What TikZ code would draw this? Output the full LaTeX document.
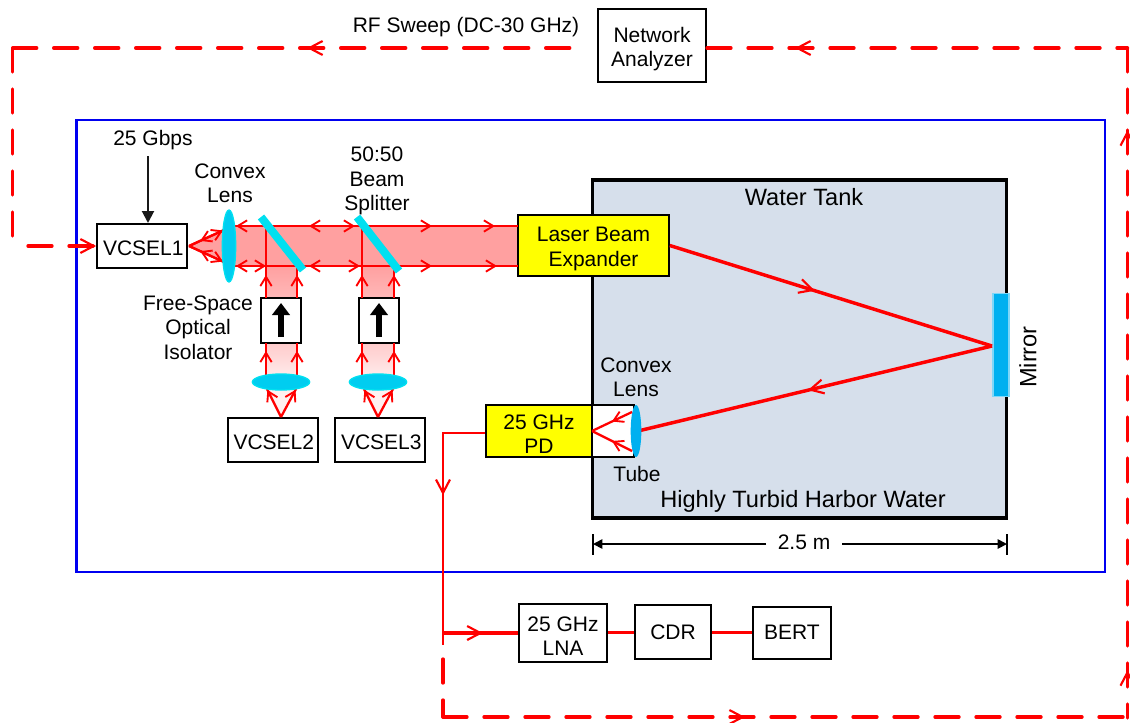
\documentclass[tikz,border=0pt]{standalone}
\usepackage{fontspec}
\setmainfont{Liberation Sans}
\usetikzlibrary{arrows.meta,decorations.markings,shapes.geometric,calc}
\definecolor{rd}{HTML}{FF0000}
\definecolor{beam}{HTML}{FFA0A0}
\definecolor{cy}{HTML}{00B0F0}
\definecolor{cyl}{HTML}{00E0F0}
\definecolor{tank}{HTML}{D6DFEB}
\definecolor{frame}{HTML}{0000F0}
\definecolor{yel}{HTML}{FFFF00}
\tikzset{
 lab/.style={inner sep=0pt,align=center,font=\fontsize{15.75}{18.2}\selectfont},
 bigl/.style={lab,font=\fontsize{17.7}{20}\selectfont},
 box/.style={draw=black,line width=1.5pt,fill=white,inner sep=0pt},
 ybox/.style={box,fill=yel},
 tx/.style={label={[lab,yshift=-1.5pt,xshift=1pt]center:#1}},
 txtwo/.style={label={[lab,yshift=-2.6pt]center:#1}},
 txflat/.style={label={[lab]center:#1}},
 barb/.style={-{Straight Barb[length=7pt,width=8.5pt,line width=1.4pt]}},
 bigbarb/.style={-{Straight Barb[length=10pt,width=10.5pt,line width=1.6pt]}},
 ray/.style={draw=rd,line width=1.7pt},
 fat/.style={draw=rd,line width=2.6pt},
 rdash/.style={draw=rd,line width=2.5pt,line cap=round,dash pattern=on 18pt off 12.75pt},
 mk/.style={postaction={decorate,decoration={markings,mark=at position #1 with {\arrow{Straight Barb[length=7pt,width=8.5pt,line width=1.4pt]}}}}},
 rmk/.style={postaction={decorate,decoration={markings,mark=at position #1 with {\arrowreversed{Straight Barb[length=7pt,width=8.5pt,line width=1.4pt]}}}}},
 mkb/.style={postaction={decorate,decoration={markings,mark=at position #1 with {\arrow{Straight Barb[length=10pt,width=10.5pt,line width=1.6pt]}}}}},
 lensL/.style={ellipse,fill=cyl!60!cy,draw=cyl,line width=1pt,inner sep=0pt},
 split/.style={draw=cyl,line width=6pt},
}
\begin{document}
\begin{tikzpicture}[x=0.75pt,y=-0.75pt]
\useasboundingbox (0,0) rectangle (1130,722);
% frame
\node[draw=frame,line width=2pt,minimum width=771.5pt,minimum height=339pt,inner sep=0pt] (outer) at (590.5,346) {};
% tank
\node[draw=black,fill=tank,line width=2.4pt,minimum width=311pt,minimum height=253.5pt,inner sep=0pt] (tankbox) at (799.5,349) {};
% beams
\fill[beam] (229,226) rectangle (518,266);
\fill[beam] (189,246) -- (229,229) -- (229,262) -- cycle;
\shade[top color=beam,bottom color=beam!75] (266,266) rectangle (297,298);
\shade[top color=beam,bottom color=beam!75] (362,266) rectangle (394,298);
\shade[top color=beam!55,bottom color=beam!15] (266,343) rectangle (297,382);
\shade[top color=beam!55,bottom color=beam!15] (362,343) rectangle (394,382);
\fill[beam!15] (281,417) -- (267,388) -- (296,388) -- cycle;
\fill[beam!15] (378,417) -- (364,388) -- (393,388) -- cycle;
% boxes
\node[box,minimum width=67.5pt,minimum height=33pt,tx={VCSEL1}] (v1) at (142,246) {};
\node[box,minimum width=67.5pt,minimum height=33pt,tx={VCSEL2}] (v2) at (272.5,440) {};
\node[box,minimum width=67.5pt,minimum height=33pt,tx={VCSEL3}] (v3) at (380,440) {};
\node[box,minimum width=30pt,minimum height=33.75pt] (iso1) at (281,320.5) {};
\node[box,minimum width=30pt,minimum height=33.75pt] (iso2) at (379,320.5) {};
\node[box,minimum width=81pt,minimum height=54.75pt,txtwo={Network\\Analyzer}] (na) at (652,45.5) {};
\node[ybox,minimum width=113pt,minimum height=45.75pt,txtwo={Laser Beam\\Expander}] (lbe) at (593.5,245.5) {};
\node[box,minimum width=31.5pt,minimum height=39pt] (tube) at (613,431) {};
\node[ybox,minimum width=79.5pt,minimum height=39pt,txtwo={25 GHz\\PD}] (pd) at (539,431) {};
\node[box,minimum width=66pt,minimum height=43.5pt,txtwo={25 GHz\\LNA}] (lna) at (563,632.5) {};
\node[box,minimum width=57pt,minimum height=40.5pt,txflat={CDR}] (cdr) at (673,632) {};
\node[box,minimum width=58.5pt,minimum height=39pt,txflat={BERT}] (bert) at (792,632.5) {};
% isolator arrows
\coordinate (a1s) at (281,337); \coordinate (a1e) at (281,303);
\coordinate (a2s) at (379,337); \coordinate (a2e) at (379,303);
\draw[line width=4.5pt,-{Triangle[length=9pt,width=13pt]}] (a1s) -- (a1e);
\draw[line width=4.5pt,-{Triangle[length=9pt,width=13pt]}] (a2s) -- (a2e);
% beam rays
\coordinate (t0) at (229,226); \coordinate (t1) at (518,226);
\coordinate (b0) at (229,266); \coordinate (b1) at (518,266);
\draw[ray] (t0) -- (t1);
\draw[ray] (b0) -- (b1);
\foreach \x in {236,309}{\draw[ray,barb] (\x+8,226) -- (\x,226); \draw[ray,barb] (\x+8,266) -- (\x,266);}
\foreach \x in {355,432,495}{\draw[ray,barb] (\x-8,226) -- (\x,226);}
\foreach \x in {266,360,432,497}{\draw[ray,barb] (\x-8,266) -- (\x,266);}
% vertical rays
\foreach \x/\ybot in {266/298,297/298,362/298,394/298}{\draw[ray,mk=0.72] (\x,\ybot) -- (\x,266);}
\draw[ray] (266,266) -- (266,226);
\draw[ray] (362,266) -- (362,226);
\foreach \x in {266,297,362,394}{\draw[ray,mk=0.75] (\x,375) -- (\x,343);}
% splitters
\draw[split] (261,217) -- (303,270);
\draw[split] (357,217) -- (399,271);
% diverging rays
\coordinate (apex1) at (189,246);
\draw[ray,mk=0.97] (apex1) -- (224,230);
\draw[ray,mk=0.97] (apex1) -- (224,262);
\draw[ray,rmk=0.32] (apex1) -- (224,230);
\draw[ray,rmk=0.32] (apex1) -- (224,262);
\coordinate (apex2) at (281,417); \coordinate (apex3) at (378,417);
\draw[ray,mk=0.97] (apex2) -- (267,389);
\draw[ray,mk=0.97] (apex2) -- (296,389);
\draw[ray,mk=0.97] (apex3) -- (364,389);
\draw[ray,mk=0.97] (apex3) -- (393,389);
% lenses
\node[lensL,minimum width=10pt,minimum height=54pt] (l1) at (229,246) {};
\node[lensL,minimum width=43pt,minimum height=12pt] (l2) at (281,382) {};
\node[lensL,minimum width=43pt,minimum height=12pt] (l3) at (378,382) {};
% mirror
\node[rectangle,fill=cy,draw=cy!50!white,line width=1pt,minimum width=12pt,minimum height=77pt,inner sep=0pt] (mir) at (1001,345) {};
\coordinate (hit) at (992,346);
\draw[fat,mkb=0.45] (lbe.east) -- (hit);
\draw[fat,mkb=0.52] (hit) -- (638,431);
% pd lens
\node[ellipse,fill=cy,inner sep=0pt,minimum width=8pt,minimum height=39pt] (l4) at (636,431) {};
\coordinate (apex4) at (592,431);
\draw[ray,rmk=0.5] (apex4) -- (632,412);
\draw[ray,rmk=0.5] (apex4) -- (632,451);
% receiver lines
\coordinate (j1) at (443,433); \coordinate (j2) at (443,633); \coordinate (j2b) at (443,645);
\coordinate (j2c) at (443,659); \coordinate (j3) at (443,717);
\coordinate (j4) at (1125,717); \coordinate (j4b) at (1127.5,718); \coordinate (j5) at (1127.5,48);
\coordinate (j6) at (12.7,48); \coordinate (j7) at (12.7,238); \coordinate (j8) at (28,246);
\coordinate (n0) at (572,48); \coordinate (n1) at (707,48);
\draw[draw=rd,line width=2pt,mkb=0.41] (pd.west|-j1) -- (j1) -- (j2b);
\draw[fat,mkb=0.53] (j2) -- (lna.west|-j2);
\draw[fat] (lna.east) -- (cdr.west|-lna.east);
\draw[fat] (cdr.east|-lna.east) -- (bert.west|-lna.east);
% dashed loop
\draw[rdash] (j2c) -- (j3);
\draw[rdash] (j3) -- (j4);
\draw[rdash] (j5) -- (j4b);
\draw[rdash] (n1) -- (j5);
\draw[rdash] (j6) -- (n0);
\draw[rdash] (j6) -- (j7);
\draw[rdash] (j8) -- (v1.west);
\coordinate (m1) at (745,717); \coordinate (m2) at (1127.5,130); \coordinate (m2b) at (1127.5,670);
\coordinate (m3) at (795,48); \coordinate (m4) at (307,48);
\draw[ray,line width=2pt,bigbarb] (733,717) -- (m1);
\draw[ray,line width=2pt,bigbarb] (1127.5,142) -- (m2);
\draw[ray,line width=2pt,bigbarb] (1127.5,682) -- (m2b);
\draw[ray,line width=2pt,bigbarb] (807,48) -- (m3);
\draw[ray,line width=2pt,bigbarb] (319,48) -- (m4);
\draw[ray,line width=2pt,bigbarb] (84,246) -- (v1.west);
% 25 Gbps
\node[lab] (gb) at (153,140.5) {25 Gbps};
\draw[black!90,line width=1.5pt,-{Triangle[length=9pt,width=9pt]}] (148,156) -- (v1.north-|148,0);
% dimension
\coordinate (d0) at (593,544); \coordinate (d1) at (1007,544);
\coordinate (dl) at (766,544); \coordinate (dr) at (842,544);
\node[lab] (dim) at (804,542) {2.5 m};
\draw[line width=1.3pt,-{Triangle[length=7pt,width=7pt]}] (dl) -- (d0);
\draw[line width=1.3pt,-{Triangle[length=7pt,width=7pt]}] (dr) -- (d1);
\draw[line width=1.5pt] (593,534) -- (593,555);
\draw[line width=1.5pt] (1007,534) -- (1007,555);
% labels
\node[lab] (rf) at (466,27.5) {RF Sweep (DC-30 GHz)};
\node[lab] (l1t) at (230,183) {Convex\\Lens};
\node[lab] (bs) at (377,181) {50:50\\Beam\\Splitter};
\node[lab] (fs) at (198,327.5) {Free-Space\\Optical\\Isolator};
\node[bigl] (wt) at (804,197) {Water Tank};
\node[bigl] (hw) at (803,501) {Highly Turbid Harbor Water};
\node[lab] (l2t) at (636,377.5) {Convex\\Lens};
\node[lab] (tb) at (637,474) {Tube};
\node[bigl,rotate=90] (mt) at (1028,357) {Mirror};
\end{tikzpicture}
\end{document}
